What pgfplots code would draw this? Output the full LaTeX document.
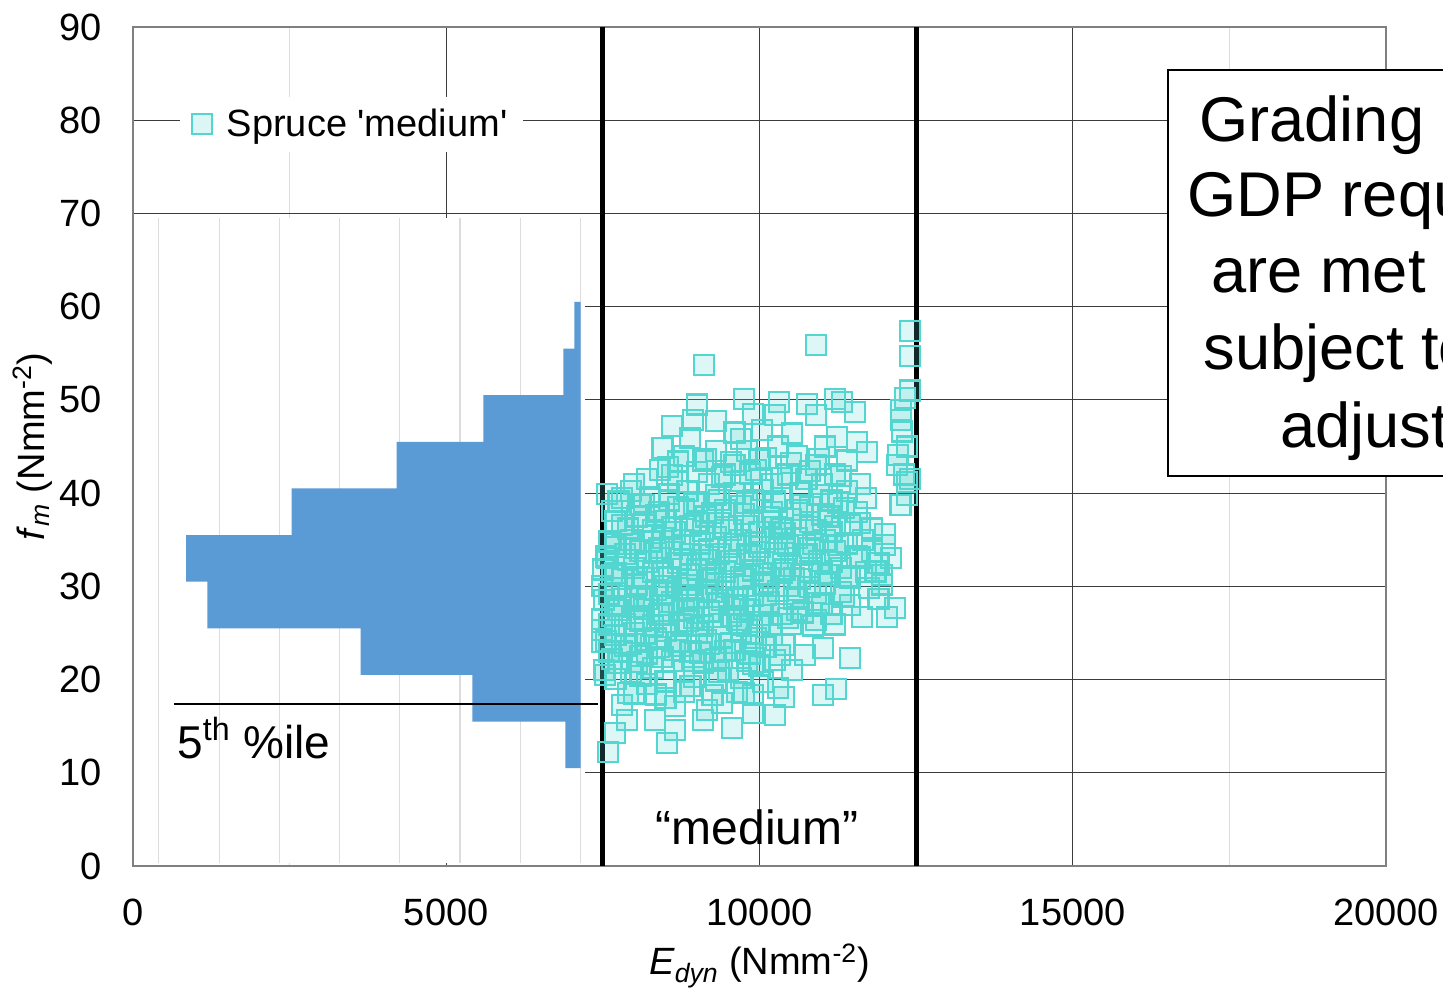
\documentclass[border=0pt]{standalone}
\usepackage{fontspec}
\setmainfont{Liberation Sans}
\usepackage{pgfplots}
\pgfplotsset{compat=1.18}
\definecolor{turq}{RGB}{84,214,208}
\definecolor{histblue}{RGB}{91,155,213}
\definecolor{gridmaj}{RGB}{60,60,60}
\definecolor{gridmin}{RGB}{220,220,220}
\newcommand{\lbl}{\fontsize{19}{23}\selectfont}

\begin{document}
\begin{tikzpicture}
\useasboundingbox (-66.5pt,-61pt) rectangle (655pt,433pt);
\clip (-66.5pt,-61pt) rectangle (655pt,433pt);
\begin{axis}[
    scale only axis, width=626.5pt, height=419.5pt,
    at={(0pt,0pt)}, anchor=south west,
    xmin=0, xmax=20000, ymin=0, ymax=90,
    xtick={0,5000,...,20000}, ytick={0,10,...,90},
    minor xtick={2500,7500,12500,17500},
    scaled x ticks=false,
    /pgf/number format/1000 sep={},
    /pgf/number format/assume math mode=true,
    grid=both,
    major grid style={gridmaj, line width=0.55pt},
    minor grid style={gridmin, line width=0.6pt},
    axis line style={gray, line width=0.8pt},
    major tick length=0pt, minor tick length=0pt,
    tick label style={font=\lbl},
    xticklabel style={yshift=-13pt},
    yticklabel style={xshift=-12pt},
    xlabel={\textit{E}\textsubscript{\textit{dyn}} (Nmm\textsuperscript{-2})},
    ylabel={\textit{f}\textsubscript{\textit{m}} (Nmm\textsuperscript{-2})},
    label style={font=\lbl},
    x label style={at={(axis description cs:0.5,-0.119)}, anchor=center},
    y label style={at={(axis description cs:-0.080,0.5)}, anchor=center},
    legend style={draw=none, fill=white, at={(0.037,0.884)}, anchor=west,
        font=\lbl, inner xsep=6pt, inner ysep=4pt},
    legend cell align=left,
]
% white panel of the inset histogram
\fill[white] (axis cs:0,0.3) rectangle (axis cs:7220,69.5);
\pgfplotsinvokeforeach{410,1378,2341,3294,4251,5220,6188,7146}{
  \draw[gridmin, line width=0.6pt] (axis cs:#1,0.3) -- (axis cs:#1,69.5);
}
\draw[gray, line width=0.8pt] (axis cs:0,0) -- (axis cs:0,69.5);

% histogram of f_m (bins 10.5 ... 60.5)
\addplot[fill=histblue, draw=none, forget plot] coordinates {
 (7146,10.5) (6900,10.5) (6900,15.5) (5416,15.5) (5416,20.5) (3635,20.5)
 (3635,25.5) (1186,25.5) (1186,30.5) (846,30.5) (846,35.5) (2533,35.5)
 (2533,40.5) (4209,40.5) (4209,45.5) (5592,45.5) (5592,50.5) (6868,50.5)
 (6868,55.5) (7044,55.5) (7044,60.5) (7146,60.5)};

% 5th percentile
\draw[black, line width=0.8pt] (axis cs:654,17.4) -- (axis cs:7422,17.4);
\node[anchor=west, font=\fontsize{23}{27}\selectfont, inner sep=0pt] at (axis cs:700,13.7) {5\textsuperscript{th} \%ile};

% scatter
\addplot[only marks, mark=square*, mark size=5pt,
  mark options={draw=turq, fill=turq, fill opacity=0.2, line width=1.1pt}]
coordinates {
 (12400,57.4)
 (10900,55.9) (9110,53.7) (12400,54.7) (12400,51.0)
 (12320,50.2) (9000,49.5) (9750,50.1) (8600,47.2) (8940,47.8) (9300,47.7)
 (8890,45.9) (9900,48.5) (10310,49.8) (10760,49.6) (11200,50.1) (11320,49.8)
 (11520,48.7) (10250,48.4) (10900,48.4) (11240,46.0) (11560,45.5) (12270,46.6)
 (12260,48.9) (10040,46.8) (10520,46.4) (9600,46.5) (9700,45.8)
 (8540,42.8) (8410,42.5) (8200,41.5) (8000,41.0) (8800,44.0) (9100,43.5)
 (9300,44.5) (9450,42.0) (9600,43.0) (9800,44.5) (9950,42.5) (10100,43.8)
 (10300,45.0) (10450,42.0) (10600,44.0) (10750,41.5) (10900,43.0) (11050,45.0)
 (11200,42.0) (11400,43.5) (11720,44.4) (12210,44.1) (12300,42.0) (12350,41.2)
 (11600,41.0) (9200,41.0) (8700,41.2) (10200,41.0) (9700,41.3) (11000,41.0)
 (8450,44.8) (12260,47.8) (12350,45.0) (12200,43.0) (12400,41.5)
 (7570,39.9) (7800,39.5) (7950,40.2) (8100,38.8) (8250,39.6) (8400,38.0)
 (8550,39.9) (8700,38.5) (8850,40.2) (9000,39.0) (9150,37.5) (9300,39.8)
 (9450,38.2) (9600,40.0) (9750,37.8) (9900,39.2) (10050,40.3) (10200,38.0)
 (10350,39.5) (10500,37.2) (10650,40.0) (10800,38.5) (10950,39.8) (11100,37.5)
 (11250,39.0) (11400,40.2) (11550,38.0) (11700,39.5) (12250,38.7) (12350,39.8)
 (7700,37.0) (7900,36.2) (8050,37.5) (8300,36.0) (8500,37.0) (8650,35.8)
 (8900,36.5) (9100,35.9) (9350,36.8) (9550,36.0) (9800,36.5) (10000,35.8)
 (10250,36.4) (10400,35.7) (10700,36.6) (10900,36.0) (11150,35.8) (11450,36.6)
 (11800,36.2) (12000,35.6)
 (7500,31.8) (7560,33.0) (7700,34.5) (7650,31.2) (7850,33.5) (7800,30.8)
 (7950,35.0) (8000,32.0) (8100,33.8) (8150,30.9) (8250,34.8) (8300,31.5)
 (8400,33.0) (8450,35.2) (8550,31.0) (8600,34.0) (8700,32.5) (8800,35.0)
 (8850,30.7) (8900,33.5) (9000,31.8) (9050,34.6) (9150,32.8) (9250,30.9)
 (9300,35.3) (9350,33.5) (9450,31.6) (9500,34.2) (9600,32.4) (9700,35.0)
 (9750,30.8) (9800,33.5) (9900,31.7) (9950,34.7) (10050,32.6) (10150,30.9)
 (10200,35.1) (10250,33.6) (10350,31.4) (10450,34.3) (10500,32.2) (10600,35.2)
 (10650,30.8) (10700,33.4) (10800,31.6) (10850,34.5) (10950,32.7) (11050,35.0)
 (11100,31.2) (11200,33.8) (11300,32.0) (11400,34.6) (11450,30.9) (11550,33.2)
 (11650,35.0) (11700,31.5) (11800,33.8) (11900,32.5) (12000,34.4) (12100,33.0)
 (11950,31.2) (7600,34.8) (8200,32.6) (9200,31.2) (10400,31.8)
 (7480,30.0) (7520,28.5) (7480,26.5) (7600,25.9) (7700,29.8) (7750,27.5)
 (7850,26.0) (7900,29.0) (8000,27.8) (8050,30.2) (8100,26.3) (8200,28.6)
 (8300,25.8) (8350,29.6) (8400,27.0) (8500,30.0) (8550,26.2) (8600,28.3)
 (8700,29.8) (8750,25.9) (8800,27.4) (8900,30.1) (8950,26.6) (9000,28.8)
 (9100,25.8) (9150,29.6) (9200,27.3) (9300,30.3) (9350,26.0) (9400,28.5)
 (9500,29.9) (9550,26.8) (9600,28.0) (9700,25.9) (9750,30.0) (9850,27.5)
 (9900,29.0) (10000,26.2) (10050,30.2) (10150,28.3) (10200,25.9) (10300,29.5)
 (10350,27.0) (10450,30.0) (10500,26.0) (10600,28.8) (10700,27.2) (10800,29.9)
 (10850,25.8) (10950,28.2) (11050,30.3) (11150,27.0) (11300,29.4) (11450,28.0)
 (11636,26.7) (11750,29.8) (12035,26.7) (12160,27.7) (11900,28.6) (11950,30.2)
 (11200,25.9) (9800,25.8)
 (7486,25.3) (7486,24.0) (7520,21.0) (7600,23.0) (7700,24.8) (7750,21.8)
 (7850,23.6) (7950,20.8) (8000,25.0) (8100,22.5) (8200,24.2) (8300,21.2)
 (8400,23.5) (8500,25.2) (8600,22.0) (8700,24.0) (8800,20.9) (8900,23.0)
 (9000,25.0) (9100,21.8) (9200,23.8) (9300,22.2) (9400,24.6) (9500,21.0)
 (9600,23.2) (9700,25.1) (9800,22.0) (9900,24.0) (10000,21.5) (10100,23.5)
 (10327,22.6) (10726,22.6) (11013,23.4) (11444,22.3) (10519,21.0) (10200,24.8)
 (9350,20.8)
 (7540,20.5) (7805,17.3) (7885,15.7) (8332,15.7) (8000,18.5) (8200,19.5)
 (8500,18.0) (8900,19.3) (9098,15.7) (9162,16.7) (9641,18.7) (9896,18.3)
 (9896,16.4) (10295,19.1) (10391,18.1) (10248,16.2) (11013,18.3) (11221,19.0)
 (8650,17.2) (9400,17.5)
 (7582,12.2) (7694,14.3) (8524,13.2) (8651,14.6) (9561,14.8)
 (7650,38.1) (8350,37.6) (8800,38.3) (9250,37.9) (9700,38.6) (10150,37.4)
 (10600,38.2) (11000,37.7) (11350,38.4)
 (7550,33.2) (7900,32.8) (8350,33.6) (8750,32.9) (9100,33.4) (9550,32.7)
 (9850,33.3) (10300,32.9) (10750,33.5) (11150,32.6) (11600,33.1)
 (7600,29.2) (8100,28.9) (8450,29.3) (8850,28.7) (9250,29.4) (9650,28.8)
 (10100,29.1) (10550,28.6) (10900,29.3) (11350,28.9)
 (7550,24.1) (7950,23.8) (8350,24.4) (8750,23.6) (9150,24.2) (9550,23.9)
 (9950,24.5) (10400,23.7)
 (7700,20.1) (8100,20.4) (8500,19.8) (8950,20.3) (9300,19.9) (9700,20.2)
 (10050,19.7)
 (8600,41.9) (9000,42.3) (9400,41.7) (9850,42.1) (10350,41.6) (10800,42.4)
 (11300,41.8)
 (7800,36.6) (8150,36.9) (8600,36.3) (9000,37.0) (9450,36.4) (9900,36.8)
 (10350,36.2) (10800,36.9) (11200,36.5) (11600,36.8)
 (7700,31.4) (8050,31.0) (8450,31.6) (8900,31.2) (9300,31.5) (9700,31.0)
 (10100,31.3) (10550,30.9) (11000,31.4) (11400,31.1) (11850,31.6)
 (7650,26.8) (8050,26.5) (8450,26.9) (8850,26.3) (9250,26.7) (9650,26.4)
 (10050,26.9) (10450,26.6) (10900,26.4)
 (7650,22.2) (8050,21.9) (8450,22.4) (8950,22.0) (9400,22.3) (9900,21.7)
 (10250,22.1)
 (7750,39.1) (8150,38.7) (8550,39.2) (8950,38.8) (9350,39.3) (9800,38.9)
 (10250,39.1) (10700,38.7) (11150,39.2)
 (7700,34.2) (8000,34.5) (8400,34.1) (8800,34.4) (9200,34.0) (9600,34.5)
 (10000,34.2) (10400,34.6) (10800,34.1) (11250,34.4)
 (7700,27.9) (8150,27.6) (8550,28.0) (8950,27.7) (9350,28.1) (9750,27.6)
 (10150,27.9) (10600,27.5) (11000,28.0)
 (7800,23.1) (8200,22.8) (8650,23.2) (9050,22.9) (9450,23.1) (9850,22.8)
 (8700,43.4) (9150,43.7) (9550,43.3) (10000,43.6) (10500,43.2) (10950,43.7)
 (7900,18.6) (8350,18.4) (8800,18.7) (9250,18.3) (9750,18.6)
};
\addlegendentry{\hspace{5.5pt}Spruce \textquotesingle medium\textquotesingle}

% grade limits
\addplot[black, line width=2.5pt, forget plot] coordinates {(7500,0) (7500,90)};
\addplot[black, line width=2.5pt, forget plot] coordinates {(12500,0) (12500,90)};
\node[font=\fontsize{24}{28}\selectfont] at (axis cs:9960,4.1) {“medium”};
\end{axis}

% text box at the right, cut off by the picture edge
\draw[black, line width=1pt, fill=white] (517.5pt,195pt) rectangle (720pt,398pt);
\begin{scope}[every node/.style={anchor=base west, inner sep=0pt, font=\fontsize{31.6}{38}\selectfont}]
\node at (533pt,362pt) {Grading};
\node at (527pt,324.5pt) {GDP requirements};
\node at (539pt,286.5pt) {are met};
\node at (535pt,248pt) {subject to};
\node at (573.5pt,209pt) {adjustment};
\end{scope}
\end{tikzpicture}
\end{document}
